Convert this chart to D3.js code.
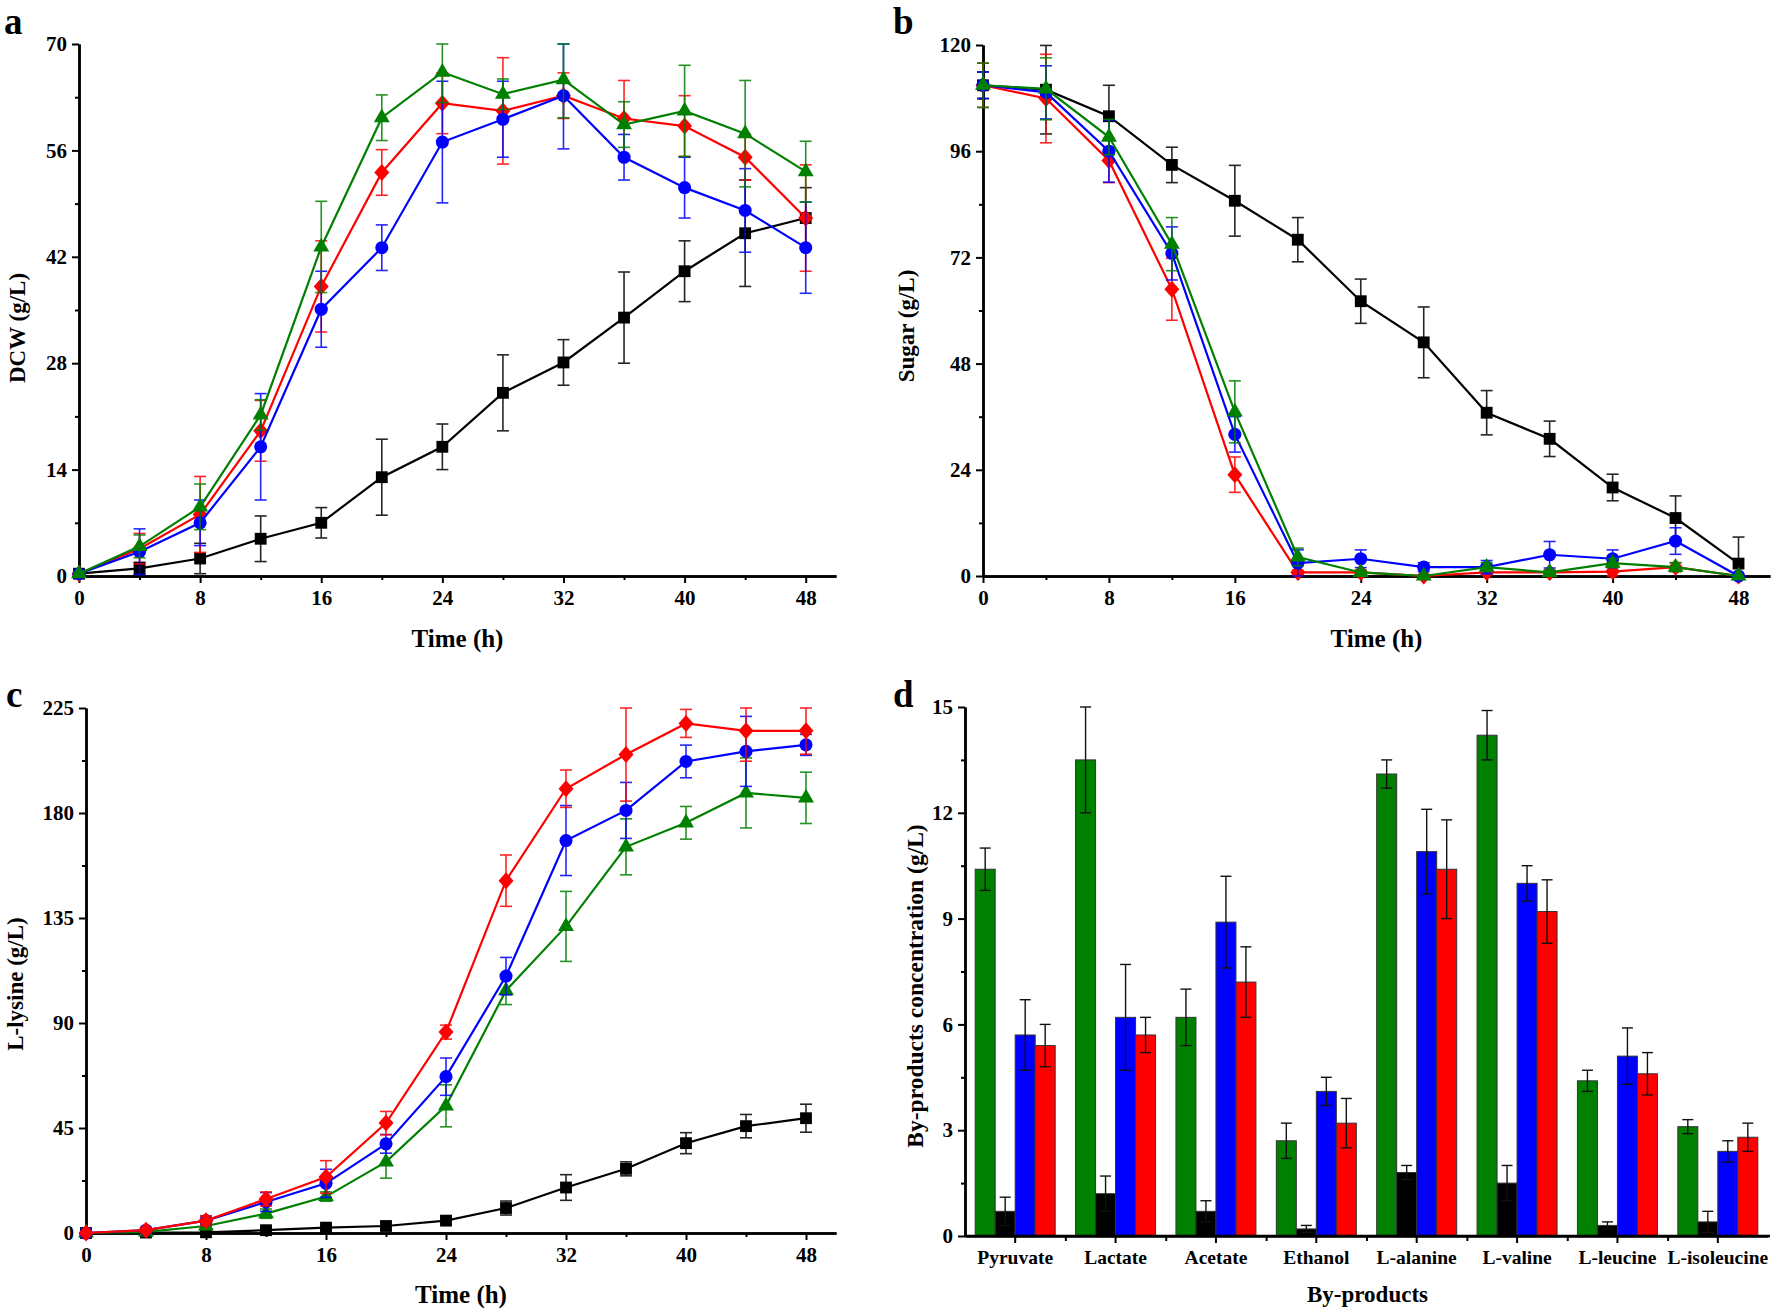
<!DOCTYPE html>
<html><head><meta charset="utf-8">
<script src="https://cdn.jsdelivr.net/npm/d3@7"></script>
<style>
body{margin:0;background:#fff}
svg{display:block}
text{font-family:"Liberation Serif","Times New Roman",serif;font-weight:bold;fill:#000}
</style>
</head><body>
<svg id="fig" width="1772" height="1312"></svg>
<script>
// ---------- DATA ----------
const time = [0,4,8,12,16,20,24,28,32,36,40,44,48];
const xTicks = [0,8,16,24,32,40,48];

// Panel a: DCW (g/L)
const dcwBlack    = [0.3,1.0,2.3,4.9,7.0,13.0,17.0,24.1,28.1,34.0,40.1,45.1,47.1];
const dcwBlackErr = [0.2,0.8,2,3,2,5,3,5,3,6,4,7,4];
const dcwRed      = [0.3,3.6,8.1,19.1,38.1,53.1,62.2,61.2,63.2,60.2,59.2,55.1,47.1];
const dcwRedErr   = [0.2,2,5,4,6,3,4,7,3,5,4,3,7];
const dcwBlue     = [0.3,3.2,7.0,17.0,35.1,43.2,57.1,60.1,63.2,55.1,51.1,48.1,43.2];
const dcwBlueErr  = [0.2,3,3,7,5,3,8,5,7,3,4,5.5,6];
const dcwGreen    = [0.3,3.9,9.1,21.2,43.3,60.3,66.3,63.4,65.3,59.4,61.2,58.2,53.2];
const dcwGreenErr = [0.2,1.5,3,2,6,3,4,2,5,3,6,7,4];
const dcwTicks = [0,14,28,42,56,70];

// Panel b: Sugar (g/L)
const sugarBlack    = [110.9,109.9,103.9,92.9,84.8,76.0,62.1,52.8,36.9,31.0,20.0,13.1,2.8];
const sugarBlackErr = [3,10,7,4,8,5,5,8,5,4,3,5,6];
const sugarRed      = [110.9,107.9,93.9,64.8,22.9,0.8,0.8,0,0.8,0.8,1,2,0];
const sugarRedErr   = [5,10,5,7,4,0.5,0.5,0,0.5,0.5,2,1,0];
const sugarBlue     = [110.9,109.3,96.0,72.9,32.0,2.9,3.9,2.0,2.0,4.8,3.9,7.9,0];
const sugarBlueErr  = [3,6,7,6,4,3,2,1,1.5,3,2,3,0];
const sugarGreen    = [110.9,110.1,99.2,75.0,37.1,4.3,0.8,0,2.0,0.8,2.9,2.0,0];
const sugarGreenErr = [5,7,4,6,7,2,0.5,0,1,0.5,1,1,0];
const sugarTicks = [0,24,48,72,96,120];

// Panel c: L-lysine (g/L)
const lysBlack    = [0,0.2,0.3,1.2,2.3,3.0,5.3,10.7,19.5,27.5,38.5,45.8,49.2];
const lysBlackErr = [0,0.3,0.5,1,1,1.5,1.5,3,5.5,3,4.5,5,6];
const lysRed      = [0,1.2,5.3,14.6,24.0,47.1,86.1,151.0,190.4,205.1,218.4,215.2,215.2];
const lysRedErr   = [0,1,2,3,7,5,3,11,8,20,6,13,10];
const lysBlue     = [0,1.2,5.3,13.3,21.3,38.2,67.0,110.1,168.2,181.1,202.1,206.4,209.2];
const lysBlueErr  = [0,1,2,4,6,4,8,8,15,12,7,15,4.5];
const lysGreen    = [0,0.5,3.0,8.3,15.6,30.5,54.5,103.9,131.4,165.5,175.8,188.6,186.5];
const lysGreenErr = [0,0.5,1,2,2,7,9,6,15,12,7,15,11];
const lysTicks = [0,45,90,135,180,225];

// Panel d: By-products concentration (g/L)
const byCategories = ["Pyruvate","Lactate","Acetate","Ethanol","L-alanine","L-valine","L-leucine","L-isoleucine"];
const byGreen    = [10.4,13.5,6.2,2.7,13.1,14.2,4.4,3.1];
const byGreenErr = [0.6,1.5,0.8,0.5,0.4,0.7,0.3,0.2];
const byBlack    = [0.7,1.2,0.7,0.2,1.8,1.5,0.3,0.4];
const byBlackErr = [0.4,0.5,0.3,0.1,0.2,0.5,0.1,0.3];
const byBlue     = [5.7,6.2,8.9,4.1,10.9,10.0,5.1,2.4];
const byBlueErr  = [1.0,1.5,1.3,0.4,1.2,0.5,0.8,0.3];
const byRed      = [5.4,5.7,7.2,3.2,10.4,9.2,4.6,2.8];
const byRedErr   = [0.6,0.5,1.0,0.7,1.4,0.9,0.6,0.4];
const byTicks = [0,3,6,9,12,15];

// ---------- STYLE ----------
const C = {black:"#000000", red:"#ff0000", blue:"#0000ff", green:"#008000"};
const svg = d3.select("#fig");

const diamond = {draw(ctx,size){const w=7.5,h=8.5;ctx.moveTo(0,-h);ctx.lineTo(w,0);ctx.lineTo(0,h);ctx.lineTo(-w,0);ctx.closePath();}};
const shapes = {
  black: d3.symbol().type(d3.symbolSquare).size(140),
  red: d3.symbol().type(diamond),
  blue: d3.symbol().type(d3.symbolCircle).size(135),
  green: d3.symbol().type(d3.symbolTriangle).size(110)
};

function styleAxis(g){
  g.select(".domain").attr("stroke","#000").attr("stroke-width",2.5);
  g.selectAll(".tick line").attr("stroke","#000").attr("stroke-width",2);
  g.selectAll(".tick text").style("font-size","21px");
}

function linePanel(cfg){
  const x = d3.scaleLinear().domain([0,50]).range([cfg.left,cfg.right]);
  const y = d3.scaleLinear().domain([0,cfg.ymax]).range([cfg.bottom,cfg.top]);
  const step = cfg.ticks[1]-cfg.ticks[0];
  const g = svg.append("g");

  // minor ticks
  g.append("g").attr("transform",`translate(0,${cfg.bottom})`)
    .call(d3.axisBottom(x).tickValues(d3.range(4,50,8)).tickSize(4).tickSizeOuter(0).tickFormat(""))
    .call(styleAxis);
  g.append("g").attr("transform",`translate(${cfg.left},0)`)
    .call(d3.axisLeft(y).tickValues(cfg.ticks.slice(0,-1).map(v=>v+step/2)).tickSize(4).tickSizeOuter(0).tickFormat(""))
    .call(styleAxis);
  // major
  g.append("g").attr("transform",`translate(0,${cfg.bottom})`)
    .call(d3.axisBottom(x).tickValues(xTicks).tickSize(7).tickPadding(7).tickSizeOuter(0).tickFormat(d3.format("d")))
    .call(styleAxis);
  g.append("g").attr("transform",`translate(${cfg.left},0)`)
    .call(d3.axisLeft(y).tickValues(cfg.ticks).tickSize(7).tickPadding(5).tickSizeOuter(0).tickFormat(d3.format("d")))
    .call(styleAxis);

  const line = d3.line().x((d,i)=>x(time[i])).y(d=>y(d));
  cfg.series.forEach(s=>{
    const sg = g.append("g");
    const eb = sg.append("g").attr("stroke",C[s.color]).attr("stroke-width",1.6).attr("opacity",0.85);
    s.values.forEach((v,i)=>{
      const e = s.err[i]; if(!e) return;
      const cx = x(time[i]), y1 = y(Math.min(v+e,cfg.ymax)), y0 = y(Math.max(v-e,0));
      eb.append("line").attr("x1",cx).attr("x2",cx).attr("y1",y1).attr("y2",y0);
      eb.append("line").attr("x1",cx-6).attr("x2",cx+6).attr("y1",y1).attr("y2",y1);
      eb.append("line").attr("x1",cx-6).attr("x2",cx+6).attr("y1",y0).attr("y2",y0);
    });
    sg.append("path").datum(s.values).attr("d",line).attr("fill","none")
      .attr("stroke",C[s.color]).attr("stroke-width",2.2);
    sg.selectAll("path.m").data(s.values).join("path").attr("class","m")
      .attr("transform",(d,i)=>`translate(${x(time[i])},${y(d)})`)
      .attr("d",shapes[s.color]()).attr("fill",C[s.color]);
  });

  svg.append("text").attr("x",(cfg.left+cfg.right)/2).attr("y",cfg.xTitleY)
    .attr("text-anchor","middle").style("font-size","25px").text("Time (h)");
  svg.append("text").attr("transform",`translate(${cfg.yTitleX},${cfg.yTitleY}) rotate(-90)`)
    .attr("text-anchor","middle").attr("dy","0.35em").style("font-size","23px").text(cfg.yTitle);
  svg.append("text").attr("x",cfg.letterX).attr("y",cfg.letterY).style("font-size","37px").text(cfg.letter);
}

linePanel({letter:"a",letterX:4,letterY:34,left:79,right:836,top:44,bottom:576,ymax:70,ticks:dcwTicks,
  yTitle:"DCW (g/L)",yTitleX:17,yTitleY:328,xTitleY:647,
  series:[
    {color:"black",values:dcwBlack,err:dcwBlackErr},
    {color:"red",values:dcwRed,err:dcwRedErr},
    {color:"blue",values:dcwBlue,err:dcwBlueErr},
    {color:"green",values:dcwGreen,err:dcwGreenErr}]});

linePanel({letter:"b",letterX:893,letterY:34,left:983,right:1770,top:45,bottom:576,ymax:120,ticks:sugarTicks,
  yTitle:"Sugar (g/L)",yTitleX:906,yTitleY:326,xTitleY:647,
  series:[
    {color:"black",values:sugarBlack,err:sugarBlackErr},
    {color:"red",values:sugarRed,err:sugarRedErr},
    {color:"blue",values:sugarBlue,err:sugarBlueErr},
    {color:"green",values:sugarGreen,err:sugarGreenErr}]});

linePanel({letter:"c",letterX:6,letterY:707,left:86,right:836,top:708,bottom:1233,ymax:225,ticks:lysTicks,
  yTitle:"L-lysine (g/L)",yTitleX:15,yTitleY:984,xTitleY:1303,
  series:[
    {color:"black",values:lysBlack,err:lysBlackErr},
    {color:"green",values:lysGreen,err:lysGreenErr},
    {color:"blue",values:lysBlue,err:lysBlueErr},
    {color:"red",values:lysRed,err:lysRedErr}]});

// ---------- Panel d ----------
(function(){
  const left=965,right=1768,top=707,bottom=1236,ymax=15;
  const x = d3.scaleBand().domain(byCategories).range([left,right]).padding(0);
  const y = d3.scaleLinear().domain([0,ymax]).range([bottom,top]);
  const groups = ["green","black","blue","red"];
  const vals = {green:byGreen,black:byBlack,blue:byBlue,red:byRed};
  const errs = {green:byGreenErr,black:byBlackErr,blue:byBlueErr,red:byRedErr};
  const g = svg.append("g");
  const inner = d3.scaleBand().domain(groups).range([-40,40]).padding(0);

  groups.forEach(k=>{
    g.append("g").selectAll("rect").data(vals[k]).join("rect")
      .attr("x",(d,i)=>x(byCategories[i])+x.bandwidth()/2+inner(k))
      .attr("width",inner.bandwidth())
      .attr("y",d=>y(d)).attr("height",d=>bottom-y(d))
      .attr("fill",C[k]).attr("stroke","#333").attr("stroke-width",1);
  });
  groups.forEach(k=>{
    const eb = g.append("g").attr("stroke","#111").attr("stroke-width",1.4);
    vals[k].forEach((v,i)=>{
      const e = errs[k][i];
      const cx = x(byCategories[i])+x.bandwidth()/2+inner(k)+inner.bandwidth()/2;
      const y1=y(v+e), y0=y(Math.max(v-e,0));
      eb.append("line").attr("x1",cx).attr("x2",cx).attr("y1",y1).attr("y2",y0);
      eb.append("line").attr("x1",cx-5.5).attr("x2",cx+5.5).attr("y1",y1).attr("y2",y1);
      eb.append("line").attr("x1",cx-5.5).attr("x2",cx+5.5).attr("y1",y0).attr("y2",y0);
    });
  });

  const xb = d3.scaleLinear().domain([0,byCategories.length]).range([left,right]);
  g.append("g").attr("transform",`translate(0,${bottom})`)
    .call(d3.axisBottom(xb).tickValues(d3.range(1,byCategories.length)).tickSize(5).tickSizeOuter(0).tickFormat(""))
    .call(styleAxis);
  g.append("g").attr("transform",`translate(0,${bottom})`)
    .call(d3.axisBottom(x).tickSize(7).tickPadding(7).tickSizeOuter(0))
    .call(styleAxis)
    .call(a=>a.select(".domain").attr("d",`M${left},0H1770`))
    .call(a=>a.selectAll(".tick text").style("font-size","19.5px"));
  g.append("g").attr("transform",`translate(${left},0)`)
    .call(d3.axisLeft(y).tickValues(byTicks.slice(0,-1).map(v=>v+1.5)).tickSize(4).tickSizeOuter(0).tickFormat(""))
    .call(styleAxis);
  g.append("g").attr("transform",`translate(${left},0)`)
    .call(d3.axisLeft(y).tickValues(byTicks).tickSize(7).tickPadding(5).tickSizeOuter(0).tickFormat(d3.format("d")))
    .call(styleAxis);

  svg.append("text").attr("x",(left+1770)/2).attr("y",1302).attr("text-anchor","middle")
    .style("font-size","23px").text("By-products");
  svg.append("text").attr("transform",`translate(915,986) rotate(-90)`)
    .attr("text-anchor","middle").attr("dy","0.35em").style("font-size","23.5px").text("By-products concentration (g/L)");
  svg.append("text").attr("x",893).attr("y",707).style("font-size","37px").text("d");
})();
</script>
</body></html>
